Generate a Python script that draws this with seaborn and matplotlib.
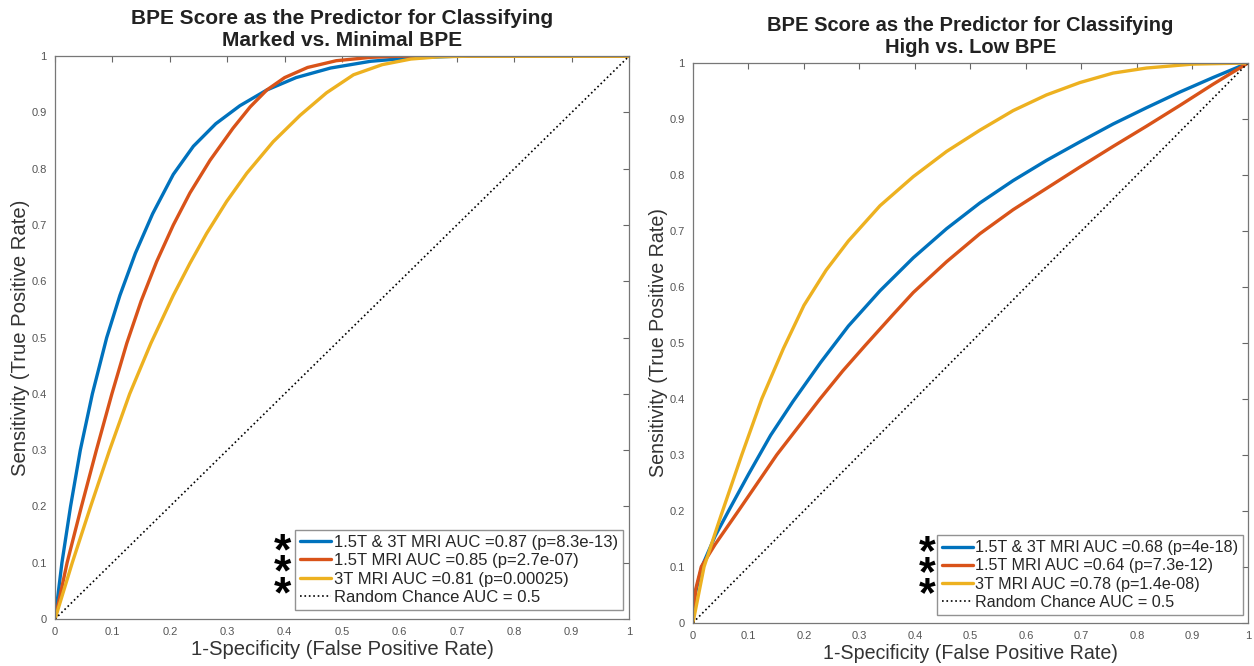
import matplotlib
matplotlib.use("Agg")
import matplotlib.pyplot as plt
import seaborn as sns

# ROC points (fpr, tpr)
left_title = "BPE Score as the Predictor for Classifying\nMarked vs. Minimal BPE"
right_title = "BPE Score as the Predictor for Classifying\nHigh vs. Low BPE"

left_labels = ["1.5T & 3T MRI AUC =0.87 (p=8.3e-13)",
               "1.5T MRI AUC =0.85 (p=2.7e-07)",
               "3T MRI AUC =0.81 (p=0.00025)"]
right_labels = ["1.5T & 3T MRI AUC =0.68 (p=4e-18)",
                "1.5T MRI AUC =0.64 (p=7.3e-12)",
                "3T MRI AUC =0.78 (p=1.4e-08)"]
chance_label = "Random Chance AUC = 0.5"

# left panel: marked vs minimal
l_both_x = [0, 0.012, 0.027, 0.044, 0.065, 0.09, 0.113, 0.14, 0.17, 0.206, 0.241, 0.28, 0.322, 0.369, 0.42, 0.48, 0.55, 0.62, 0.7, 1]
l_both_y = [0, 0.1, 0.2, 0.3, 0.4, 0.5, 0.575, 0.65, 0.72, 0.79, 0.84, 0.88, 0.912, 0.94, 0.962, 0.979, 0.991, 0.997, 1.0, 1]
l_15_x = [0, 0.021, 0.046, 0.072, 0.099, 0.125, 0.15, 0.177, 0.206, 0.235, 0.27, 0.31, 0.34, 0.369, 0.4, 0.44, 0.49, 0.55, 0.6, 1]
l_15_y = [0, 0.1, 0.2, 0.3, 0.4, 0.49, 0.565, 0.635, 0.70, 0.757, 0.815, 0.872, 0.91, 0.94, 0.962, 0.98, 0.992, 0.998, 1.0, 1]
l_3_x = [0, 0.03, 0.062, 0.095, 0.13, 0.167, 0.206, 0.235, 0.264, 0.299, 0.334, 0.38, 0.427, 0.473, 0.52, 0.57, 0.62, 0.67, 0.72, 1]
l_3_y = [0, 0.1, 0.2, 0.3, 0.4, 0.49, 0.575, 0.632, 0.685, 0.742, 0.792, 0.848, 0.895, 0.935, 0.967, 0.985, 0.995, 0.999, 1.0, 1]

# right panel: high vs low
r_both_x = [0, 0, 0.016, 0.04, 0.067, 0.1, 0.14, 0.18, 0.23, 0.28, 0.337, 0.397, 0.457, 0.517, 0.577, 0.637, 0.697, 0.757, 0.817, 0.877, 0.937, 1]
r_both_y = [0, 0.035, 0.1, 0.155, 0.205, 0.265, 0.335, 0.395, 0.465, 0.53, 0.593, 0.652, 0.704, 0.75, 0.79, 0.826, 0.859, 0.891, 0.92, 0.948, 0.974, 1]
r_15_x = [0, 0.005, 0.015, 0.04, 0.082, 0.12, 0.151, 0.19, 0.229, 0.27, 0.31, 0.36, 0.397, 0.457, 0.517, 0.577, 0.637, 0.697, 0.757, 0.817, 0.877, 0.937, 1]
r_15_y = [0, 0.06, 0.1, 0.14, 0.2, 0.255, 0.3, 0.35, 0.4, 0.45, 0.495, 0.55, 0.59, 0.645, 0.695, 0.738, 0.776, 0.814, 0.851, 0.887, 0.924, 0.962, 1]
r_3_x = [0, 0.02, 0.05, 0.088, 0.124, 0.163, 0.2, 0.24, 0.28, 0.337, 0.397, 0.457, 0.517, 0.577, 0.637, 0.697, 0.757, 0.817, 0.9, 1]
r_3_y = [0, 0.1, 0.19, 0.3, 0.4, 0.49, 0.567, 0.63, 0.682, 0.745, 0.797, 0.842, 0.88, 0.915, 0.943, 0.965, 0.982, 0.991, 0.998, 1]

chance_x = [0, 1]
chance_y = [0, 1]

ticks = [0, 0.1, 0.2, 0.3, 0.4, 0.5, 0.6, 0.7, 0.8, 0.9, 1]
tick_labels = ["0", "0.1", "0.2", "0.3", "0.4", "0.5", "0.6", "0.7", "0.8", "0.9", "1"]

colors = ["#0072BD", "#D95319", "#EDB120"]

sns.set_style("white")
plt.rcParams["font.family"] = ["Liberation Sans", "DejaVu Sans"]

fig = plt.figure(figsize=(12.54, 6.66), dpi=100)
ax1 = fig.add_axes([0.0439, 0.0706, 0.4577, 0.845])
ax2 = fig.add_axes([0.5526, 0.065, 0.4426, 0.8404])


def draw_panel(ax, curves, labels, title, star_x, star_y, anchor, scale):
    for (xs, ys), lab, c in zip(curves, labels, colors):
        sns.lineplot(x=xs, y=ys, color=c, lw=2.4, label=lab, ax=ax,
                     estimator=None, sort=False)
    sns.lineplot(x=chance_x, y=chance_y, color="black", lw=1.2, ls=":",
                 label=chance_label, ax=ax, estimator=None, sort=False)
    ax.set_xlim(0, 1)
    ax.set_ylim(0, 1)
    ax.set_xticks(ticks)
    ax.set_yticks(ticks)
    ax.set_xticklabels(tick_labels)
    ax.set_yticklabels(tick_labels)
    ax.tick_params(direction="in", length=4, width=0.8, top=True, right=True,
                   labelsize=8, colors="#666666", labelcolor="#555555", pad=6)
    for sp in ax.spines.values():
        sp.set_color("#777777")
        sp.set_linewidth(0.9)
    ax.set_xlabel("1-Specificity (False Positive Rate)", fontsize=14.6 * scale,
                  color="#333333", labelpad=2)
    ax.set_ylabel("Sensitivity (True Positive Rate)", fontsize=14.6 * scale,
                  color="#333333", labelpad=1)
    ax.set_title(title, fontsize=15 * scale, fontweight="bold", color="#222222",
                 pad=7, linespacing=1.2)
    leg = ax.legend(loc="lower right", bbox_to_anchor=anchor, fontsize=12 * scale,
                    frameon=True, fancybox=False, handlelength=1.9,
                    handletextpad=0.15, labelspacing=0.2, borderpad=0.3,
                    borderaxespad=0, edgecolor="#777777")
    leg.get_frame().set_linewidth(1.0)
    ax.text(star_x, star_y, "*\n*\n*", transform=ax.transAxes, fontsize=32 * scale,
            fontweight="bold", ha="center", va="center", color="black",
            linespacing=0.39, zorder=10)


draw_panel(ax1, [(l_both_x, l_both_y), (l_15_x, l_15_y), (l_3_x, l_3_y)],
           left_labels, left_title, 0.397, 0.080, (0.9895, 0.016), 1.0)
draw_panel(ax2, [(r_both_x, r_both_y), (r_15_x, r_15_y), (r_3_x, r_3_y)],
           right_labels, right_title, 0.423, 0.087, (0.991, 0.0143), 0.967)

fig.savefig("out.png", dpi=100)
